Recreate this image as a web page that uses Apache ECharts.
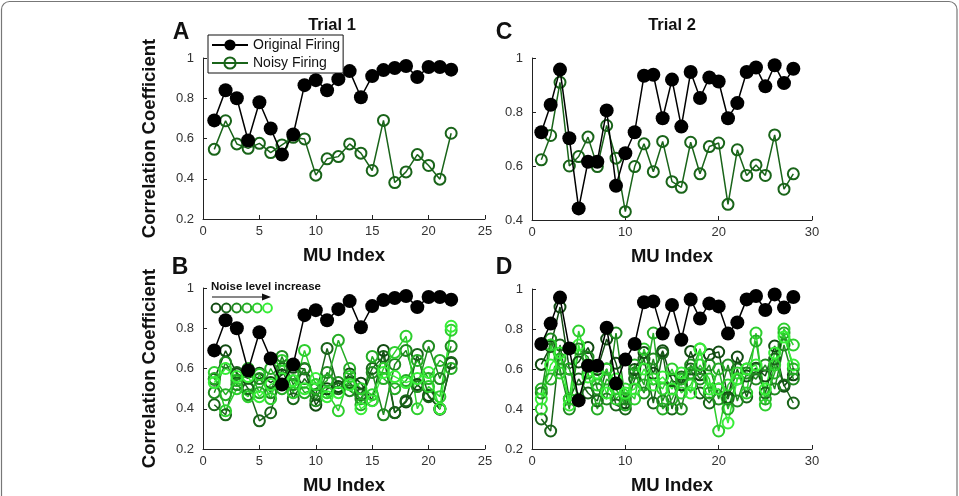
<!DOCTYPE html>
<html>
<head>
<meta charset="utf-8">
<script src="https://cdn.jsdelivr.net/npm/echarts@6/dist/echarts.min.js"></script>
<style>
html, body { margin: 0; padding: 0; background: #fff; }
#chart { width: 959px; height: 496px; }
</style>
</head>
<body>
<div id="chart"></div>
<script>
// MU index on x
var muTrial1 = [1,2,3,4,5,6,7,8,9,10,11,12,13,14,15,16,17,18,19,20,21,22];
var muTrial2 = [1,2,3,4,5,6,7,8,9,10,11,12,13,14,15,16,17,18,19,20,21,22,23,24,25,26,27,28];

// trial 1 (panels A, B)
var origTrial1  = [0.69,0.84,0.80,0.59,0.78,0.65,0.52,0.62,0.865,0.89,0.84,0.895,0.935,0.805,0.91,0.94,0.95,0.96,0.905,0.955,0.955,0.942];
var noisyTrial1 = [0.546,0.688,0.573,0.551,0.576,0.53,0.568,0.606,0.598,0.418,0.499,0.51,0.573,0.527,0.441,0.69,0.381,0.434,0.52,0.466,0.398,0.626];
var lv2Trial1 = [0.42,0.37,0.58,0.50,0.34,0.38,0.60,0.45,0.55,0.47,0.70,0.50,0.53,0.47,0.60,0.66,0.38,0.44,0.67,0.46,0.40,0.63];
var lv3Trial1 = [0.48,0.63,0.52,0.47,0.55,0.48,0.66,0.52,0.60,0.44,0.58,0.53,0.49,0.45,0.58,0.37,0.62,0.69,0.51,0.71,0.55,0.71];
var lv4Trial1 = [0.55,0.47,0.54,0.60,0.48,0.60,0.50,0.57,0.48,0.50,0.54,0.74,0.60,0.42,0.66,0.55,0.50,0.54,0.64,0.55,0.64,0.60];
var lv5Trial1 = [0.58,0.39,0.50,0.46,0.57,0.45,0.64,0.48,0.69,0.52,0.48,0.39,0.56,0.50,0.47,0.60,0.68,0.76,0.40,0.51,0.46,0.79];
var lv6Trial1 = [0.53,0.60,0.56,0.56,0.46,0.52,0.55,0.54,0.50,0.55,0.46,0.48,0.52,0.40,0.44,0.58,0.56,0.53,0.55,0.58,0.40,0.81];

// trial 2 (panels C, D)
var origTrial2  = [0.725,0.827,0.957,0.703,0.443,0.616,0.616,0.806,0.527,0.647,0.725,0.934,0.938,0.777,0.92,0.746,0.948,0.852,0.928,0.913,0.777,0.833,0.948,0.965,0.895,0.973,0.907,0.96];
var noisyTrial2 = [0.623,0.713,0.91,0.60,0.635,0.707,0.598,0.75,0.629,0.431,0.598,0.682,0.579,0.691,0.542,0.521,0.688,0.571,0.672,0.685,0.458,0.66,0.565,0.604,0.565,0.715,0.514,0.571];
var lv2Trial2 = [0.35,0.29,0.72,0.45,0.55,0.48,0.44,0.60,0.42,0.40,0.55,0.65,0.43,0.68,0.40,0.56,0.60,0.48,0.43,0.50,0.45,0.60,0.46,0.60,0.48,0.65,0.52,0.43];
var lv3Trial2 = [0.48,0.75,0.60,0.40,0.70,0.66,0.50,0.45,0.78,0.45,0.58,0.48,0.65,0.44,0.55,0.40,0.62,0.55,0.62,0.45,0.62,0.44,0.58,0.55,0.62,0.50,0.72,0.55];
var lv4Trial2 = [0.50,0.55,0.65,0.60,0.45,0.58,0.40,0.55,0.50,0.42,0.62,0.52,0.78,0.40,0.45,0.55,0.58,0.70,0.48,0.60,0.40,0.55,0.60,0.74,0.45,0.58,0.78,0.60];
var lv5Trial2 = [0.40,0.72,0.58,0.45,0.79,0.62,0.52,0.60,0.45,0.50,0.45,0.70,0.55,0.50,0.60,0.48,0.52,0.62,0.55,0.29,0.52,0.58,0.48,0.78,0.42,0.62,0.80,0.72];
var lv6Trial2 = [0.45,0.62,0.68,0.42,0.72,0.56,0.58,0.48,0.55,0.48,0.50,0.60,0.52,0.56,0.50,0.58,0.48,0.70,0.50,0.50,0.33,0.55,0.60,0.62,0.50,0.68,0.76,0.62];

// axis ranges [min, max, interval]
var xRangeTrial1 = [0, 25, 5];
var xRangeTrial2 = [0, 30, 10];
var yRangeA = [0.2, 1, 0.2];
var yRangeC = [0.4, 1, 0.2];
var yRangeBD = [0.2, 1, 0.2];

var noiseColors = ['#114a11', '#196419', '#1f8a1f', '#25ad25', '#2dcf2d', '#38ee38'];
var FONT = '"Liberation Sans", Arial, Helvetica, sans-serif';

function pairs(xs, ys) {
  return xs.map(function (x, i) { return [x, ys[i]]; });
}

function origSeries(idx, xs, ys) {
  return {
    name: 'Original Firing', type: 'line', xAxisIndex: idx, yAxisIndex: idx,
    data: pairs(xs, ys), symbol: 'circle', symbolSize: 14,
    itemStyle: { color: '#000' }, lineStyle: { color: '#000', width: 1.5 },
    animation: false, z: 3
  };
}

function noisySeries(idx, name, xs, ys, color) {
  return {
    name: name, type: 'line', xAxisIndex: idx, yAxisIndex: idx,
    data: pairs(xs, ys), symbol: 'circle', symbolSize: 11,
    itemStyle: { color: 'rgba(255,255,255,0)', borderColor: color, borderWidth: 2 },
    lineStyle: { color: color, width: 1.5 },
    animation: false, z: 2
  };
}

function xAxisFor(idx, r) {
  return {
    type: 'value', gridIndex: idx, min: r[0], max: r[1], interval: r[2],
    name: 'MU Index', nameLocation: 'middle', nameGap: 27,
    nameTextStyle: { fontFamily: FONT, fontSize: 18.5, fontWeight: 'bold', color: '#111' },
    axisLine: { onZero: false, lineStyle: { color: '#222', width: 1 } },
    axisTick: { inside: true, length: 4, lineStyle: { color: '#222' } },
    axisLabel: { fontFamily: FONT, fontSize: 13, color: '#333', margin: 6 },
    splitLine: { show: false }
  };
}

function yAxisFor(idx, r, withName) {
  return {
    type: 'value', gridIndex: idx, min: r[0], max: r[1], interval: r[2],
    name: withName ? 'Correlation Coefficient' : '', nameLocation: 'middle', nameGap: 44,
    nameTextStyle: { fontFamily: FONT, fontSize: 18.5, fontWeight: 'bold', color: '#111' },
    axisLine: { show: true, lineStyle: { color: '#222', width: 1 } },
    axisTick: { show: true, inside: true, length: 4, lineStyle: { color: '#222' } },
    axisLabel: { fontFamily: FONT, fontSize: 13, color: '#333', margin: 9 },
    splitLine: { show: false }
  };
}

var series = [];
// A
series.push(origSeries(0, muTrial1, origTrial1));
series.push(noisySeries(0, 'Noisy Firing', muTrial1, noisyTrial1, noiseColors[1]));
// B
[noisyTrial1, lv2Trial1, lv3Trial1, lv4Trial1, lv5Trial1, lv6Trial1].forEach(function (d, i) {
  series.push(noisySeries(1, 'Noise level ' + (i + 1), muTrial1, d, noiseColors[i]));
});
series.push(origSeries(1, muTrial1, origTrial1));
// C
series.push(origSeries(2, muTrial2, origTrial2));
series.push(noisySeries(2, 'Noisy Firing', muTrial2, noisyTrial2, noiseColors[1]));
// D
[noisyTrial2, lv2Trial2, lv3Trial2, lv4Trial2, lv5Trial2, lv6Trial2].forEach(function (d, i) {
  series.push(noisySeries(3, 'Noise level ' + (i + 1), muTrial2, d, noiseColors[i]));
});
series.push(origSeries(3, muTrial2, origTrial2));

// noise-level key in panel B
var keyCircles = noiseColors.map(function (c, i) {
  return { type: 'circle', shape: { cx: 216 + i * 10.3, cy: 308, r: 4.4 },
           style: { fill: 'none', stroke: c, lineWidth: 2 } };
});

function txt(x, y, s, size, align) {
  return { type: 'text', x: x, y: y,
           style: { text: s, fontFamily: FONT, fontSize: size, fontWeight: 'bold', fill: '#111',
                    align: align || 'center', verticalAlign: 'middle' } };
}

var myChart = echarts.init(document.getElementById('chart'));
myChart.setOption({
  backgroundColor: '#fff',
  animation: false,
  grid: [
    { left: 203, top: 58, width: 282, height: 161 },
    { left: 203, top: 288, width: 282, height: 163 },
    { left: 532, top: 58, width: 280, height: 162 },
    { left: 532, top: 289, width: 280, height: 162 }
  ],
  xAxis: [xAxisFor(0, xRangeTrial1), xAxisFor(1, xRangeTrial1), xAxisFor(2, xRangeTrial2), xAxisFor(3, xRangeTrial2)],
  yAxis: [yAxisFor(0, yRangeA, true), yAxisFor(1, yRangeBD, true), yAxisFor(2, yRangeC, false), yAxisFor(3, yRangeBD, false)],
  legend: {
    data: ['Original Firing', 'Noisy Firing'],
    orient: 'vertical', left: 208, top: 35,
    itemWidth: 36, itemHeight: 14, itemGap: 4,
    padding: [3, 3, 3, 3],
    borderColor: '#111', borderWidth: 1, backgroundColor: '#fff',
    selectedMode: false,
    textStyle: { fontFamily: FONT, fontSize: 14, color: '#111' }
  },
  graphic: [
    { type: 'rect', shape: { x: 1.5, y: 1.5, width: 955.5, height: 540, r: 8 },
      style: { fill: 'none', stroke: '#777', lineWidth: 1.2 }, z: -1 },
    txt(332, 25, 'Trial 1', 16.5),
    txt(672, 25, 'Trial 2', 16.5),
    txt(181, 33, 'A', 23),
    txt(180, 268, 'B', 23),
    txt(504, 33, 'C', 23),
    txt(504, 268, 'D', 23),
    txt(211, 287, 'Noise level increase', 11.5, 'left'),
    { type: 'line', shape: { x1: 212, y1: 297, x2: 263, y2: 297 }, style: { stroke: '#111', lineWidth: 1.2 } },
    { type: 'polygon', shape: { points: [[262, 293.5], [271, 297], [262, 300.5]] }, style: { fill: '#111' } }
  ].concat(keyCircles),
  series: series
});
</script>
</body>
</html>
